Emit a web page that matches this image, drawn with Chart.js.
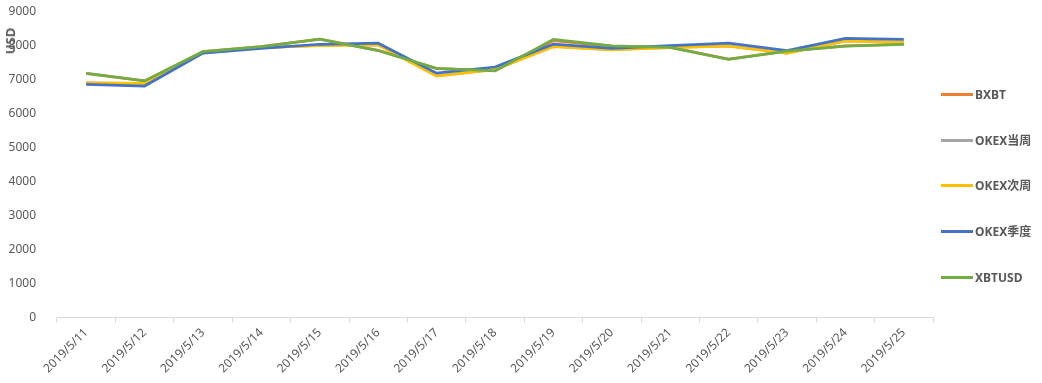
<!DOCTYPE html>
<html>
<head>
<meta charset="UTF-8">
<script src="https://cdn.jsdelivr.net/npm/chart.js"></script>
<style>
    html, body { margin: 0; padding: 0; background: #fff; }
    #wrap { position: relative; width: 1042px; height: 383px; }
    #legend { position: absolute; left: 941px; top: 0; margin: 0; padding: 0; list-style: none;
        font: bold 12px "Noto Sans", "Noto Sans CJK SC", sans-serif; color: #595959; }
    #legend li { position: absolute; left: 0; white-space: nowrap; height: 16px; line-height: 16px; }
    #legend li span { display: inline-block; width: 32px; height: 3px; vertical-align: middle;
        margin-right: 2px; position: relative; top: -1px; }
    #yTitle { position: absolute; left: 10px; top: 41px; transform: translate(-50%, -50%) rotate(-90deg);
        font: bold 13px "Noto Sans", "Noto Sans CJK SC", sans-serif; line-height: 14px;
        color: #595959; white-space: nowrap; }
</style>
</head>
<body>
<div id="wrap">
    <canvas id="priceChart"></canvas>
    <div id="yTitle">USD</div>
    <ul id="legend"></ul>
</div>
<script>
// dates along the x axis
var dates = ['2019/5/11', '2019/5/12', '2019/5/13', '2019/5/14', '2019/5/15', '2019/5/16', '2019/5/17',
    '2019/5/18', '2019/5/19', '2019/5/20', '2019/5/21', '2019/5/22', '2019/5/23', '2019/5/24', '2019/5/25'];

var bxbt      = [7195, 6970, 7830, 7980, 8200, 7870, 7330, 7270, 8160, 7990, 7960, 7610, 7850, 8000, 8050];
var okexWeek  = [6910, 6890, 7800, 7950, 8020, 8040, 7120, 7310, 7990, 7890, 7960, 8000, 7790, 8150, 8110];
var okexNext  = [6915, 6895, 7805, 7950, 8010, 8030, 7110, 7300, 7980, 7885, 7950, 7995, 7780, 8145, 8105];
var okexQtr   = [6870, 6820, 7790, 7930, 8050, 8080, 7200, 7380, 8050, 7930, 8010, 8080, 7860, 8225, 8195];
var xbtusd    = [7195, 6970, 7830, 7980, 8200, 7865, 7340, 7265, 8195, 8000, 7960, 7605, 7850, 7995, 8045];

var seriesNames = ['BXBT', 'OKEX当周', 'OKEX次周', 'OKEX季度', 'XBTUSD'];
var seriesColors = ['#ED7D31', '#A5A5A5', '#FFC000', '#4472C4', '#70AD47'];
var seriesValues = [bxbt, okexWeek, okexNext, okexQtr, xbtusd];

var yTicks = { min: 0, max: 9000, step: 1000 };

var fontFamily = '"Noto Sans", "Noto Sans CJK SC", sans-serif';
var textColor = '#595959';

var datasets = seriesNames.map(function (name, i) {
    return {
        label: name,
        data: seriesValues[i],
        borderColor: seriesColors[i],
        backgroundColor: seriesColors[i],
        borderWidth: 2.75,
        pointRadius: 0,
        tension: 0,
        fill: false,
        order: seriesNames.length - i   // later series sit on top, like the original
    };
});

var ctx = document.getElementById('priceChart').getContext('2d');
var priceChart = new Chart(ctx, {
    type: 'line',
    data: { labels: dates, datasets: datasets },
    options: {
        responsive: true,
        maintainAspectRatio: false,
        animation: false,
        layout: { padding: { top: 0, right: 109, left: 0, bottom: 4 } },
        plugins: {
            tooltip: { enabled: false },
            legend: { display: false }
        },
        scales: {
            x: {
                offset: true,
                afterFit: function (scale) { scale.paddingLeft = 0; },
                grid: {
                    offset: true,
                    display: true,
                    drawOnChartArea: false,
                    drawTicks: true,
                    tickLength: 5,
                    color: '#D9D9D9'
                },
                border: { display: true, color: '#D9D9D9' },
                ticks: {
                    autoSkip: false,
                    maxRotation: 45,
                    minRotation: 45,
                    color: textColor,
                    font: { family: fontFamily, size: 12 }
                }
            },
            y: {
                min: yTicks.min,
                max: yTicks.max,
                afterFit: function (scale) { scale.paddingTop = 12; scale.width = 57; },
                grid: { display: false },
                border: { display: false },
                ticks: {
                    stepSize: yTicks.step,
                    color: textColor,
                    padding: 13,
                    font: { family: fontFamily, size: 12 },
                    callback: function (v) { return String(v); }
                }
            }
        }
    }
});

// legend on the right, one row every 46px
var legendTops = [87, 133, 178, 224, 270];
var legendEl = document.getElementById('legend');
seriesNames.forEach(function (name, i) {
    var li = document.createElement('li');
    li.style.top = legendTops[i] + 'px';
    var swatch = document.createElement('span');
    swatch.style.background = seriesColors[i];
    li.appendChild(swatch);
    li.appendChild(document.createTextNode(name));
    legendEl.appendChild(li);
});
</script>
</body>
</html>
